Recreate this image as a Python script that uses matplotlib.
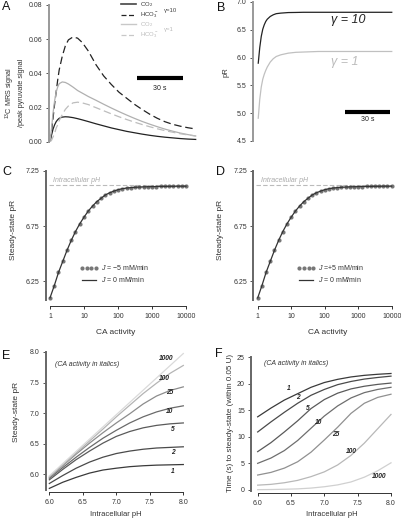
import numpy as np
import matplotlib.pyplot as plt
from matplotlib.lines import Line2D

plt.rcParams['font.family'] = ['Liberation Sans', 'DejaVu Sans']
plt.rcParams['mathtext.fontset'] = 'custom'
plt.rcParams['mathtext.rm'] = 'Liberation Sans'
plt.rcParams['mathtext.it'] = 'Liberation Sans:italic'
plt.rcParams['mathtext.bf'] = 'Liberation Sans:bold'

# ---- panel A: 13C signal vs time (s)
t_a = [0, 1, 2, 3, 4, 5, 6, 8, 10, 12, 15, 18, 21, 25, 30, 35, 40, 45, 50, 55,
       60, 65, 70, 75, 80, 85, 90, 95]
co2_g10 = [0, 0.004, 0.0075, 0.010, 0.0118, 0.013, 0.0138, 0.0145, 0.0147, 0.0146,
           0.0142, 0.0136, 0.0129, 0.0119, 0.0106, 0.0094, 0.0082, 0.0072, 0.0062,
           0.0054, 0.0046, 0.0039, 0.0033, 0.0028, 0.0024, 0.0020, 0.0017, 0.0015]
hco3_g10 = [0, 0.006, 0.014, 0.022, 0.029, 0.036, 0.042, 0.050, 0.056, 0.0595,
            0.0612, 0.0605, 0.058, 0.053, 0.045, 0.0385, 0.0335, 0.029, 0.0255,
            0.022, 0.019, 0.0162, 0.0138, 0.0118, 0.0103, 0.0092, 0.0083, 0.0076]
co2_g1 = [0, 0.008, 0.017, 0.024, 0.029, 0.032, 0.034, 0.035, 0.0347, 0.0338,
          0.032, 0.030, 0.0285, 0.0265, 0.0243, 0.022, 0.0198, 0.0177, 0.0157,
          0.0138, 0.0120, 0.0104, 0.0089, 0.0075, 0.0063, 0.0052, 0.0043, 0.0035]
hco3_g1 = [0, 0.001, 0.003, 0.005, 0.008, 0.010, 0.0125, 0.016, 0.019, 0.021,
           0.0228, 0.0232, 0.0228, 0.0218, 0.020, 0.0182, 0.0164, 0.0147, 0.0131,
           0.0116, 0.0102, 0.0089, 0.0077, 0.0066, 0.0057, 0.0048, 0.0041, 0.0035]

# ---- panel B: pR vs time (s)
t_b = [0, 1, 2, 3, 4, 5, 6, 8, 10, 12, 15, 20, 25, 30, 40, 50, 60, 70, 80, 89]
pr_g10 = [5.90, 6.18, 6.38, 6.51, 6.59, 6.65, 6.69, 6.74, 6.77, 6.79, 6.80, 6.81,
          6.812, 6.815, 6.815, 6.815, 6.815, 6.815, 6.815, 6.815]
pr_g1 = [4.91, 5.25, 5.47, 5.61, 5.70, 5.77, 5.83, 5.92, 5.98, 6.02, 6.05, 6.08,
         6.095, 6.10, 6.11, 6.11, 6.11, 6.11, 6.11, 6.11]

# ---- panels C, D: steady-state pR vs CA activity
ca_act = np.logspace(0, 4, 33)
pr_j0 = [6.10, 6.21, 6.33, 6.43, 6.53, 6.62, 6.70, 6.77, 6.83, 6.885, 6.93, 6.97,
         7.00, 7.03, 7.05, 7.065, 7.078, 7.087, 7.093, 7.097, 7.100, 7.102, 7.104,
         7.105, 7.106, 7.107, 7.108, 7.108, 7.109, 7.109, 7.110, 7.110, 7.110]
pr_jneg = pr_j0
pr_jpos = pr_j0
ph_intra = 7.12

# ---- panels E, F: vs intracellular pH
ph_grid = [6.0, 6.2, 6.4, 6.6, 6.8, 7.0, 7.2, 7.4, 7.6, 7.8, 8.0]
ca_labels = ['1', '2', '5', '10', '25', '100', '1000']
ss_pr = [
    [5.77, 5.87, 5.95, 6.02, 6.07, 6.10, 6.125, 6.14, 6.15, 6.155, 6.16],
    [5.85, 5.98, 6.10, 6.20, 6.28, 6.34, 6.38, 6.41, 6.43, 6.44, 6.45],
    [5.91, 6.08, 6.24, 6.38, 6.51, 6.62, 6.70, 6.76, 6.80, 6.825, 6.84],
    [5.935, 6.11, 6.28, 6.44, 6.59, 6.72, 6.84, 6.94, 7.02, 7.08, 7.12],
    [5.95, 6.14, 6.33, 6.51, 6.68, 6.84, 6.99, 7.15, 7.28, 7.37, 7.43],
    [5.96, 6.155, 6.35, 6.545, 6.74, 6.94, 7.13, 7.32, 7.49, 7.65, 7.78],
    [5.975, 6.175, 6.375, 6.575, 6.775, 6.975, 7.175, 7.375, 7.575, 7.775, 7.975],
]
t_ss = [
    [13.75, 15.4, 16.9, 18.1, 19.3, 20.2, 20.8, 21.25, 21.55, 21.75, 21.9],
    [10.9, 12.8, 14.6, 16.3, 17.8, 18.9, 19.8, 20.4, 20.85, 21.15, 21.4],
    [7.2, 8.9, 10.9, 13.0, 15.3, 17.0, 18.2, 19.0, 19.5, 19.85, 20.1],
    [5.0, 6.0, 7.4, 9.3, 11.6, 13.9, 15.8, 17.3, 18.3, 18.9, 19.3],
    [2.8, 3.3, 4.1, 5.3, 7.1, 9.4, 11.8, 14.4, 16.3, 17.4, 18.0],
    [0.9, 1.05, 1.35, 1.8, 2.5, 3.4, 4.7, 6.5, 8.8, 11.5, 14.2],
    [0.05, 0.08, 0.13, 0.2, 0.35, 0.6, 0.95, 1.5, 2.4, 3.6, 5.1],
]
e_colors = ['#3a3a3a', '#4a4a4a', '#5a5a5a', '#6a6a6a', '#8c8c8c', '#b4b4b4', '#dadada']
f_colors = ['#3a3a3a', '#4a4a4a', '#5a5a5a', '#6e6e6e', '#909090', '#b8b8b8', '#d0d0d0']

W, H = 402, 520
fig = plt.figure(figsize=(W / 100, H / 100), dpi=100)


def px_axes(x0, y0, x1, y1):
    return fig.add_axes([x0 / W, 1 - y1 / H, (x1 - x0) / W, (y1 - y0) / H])


def style(ax, spine_col='#777', bottom=True, out=3):
    ax.spines['top'].set_visible(False)
    ax.spines['right'].set_visible(False)
    ax.spines['left'].set_color(spine_col)
    ax.spines['left'].set_linewidth(1.4)
    ax.tick_params(axis='y', length=2.5, width=0.7, color='#555', labelsize=5,
                   pad=2, labelcolor='#333')
    if bottom:
        ax.spines['bottom'].set_position(('outward', out))
        ax.spines['bottom'].set_linewidth(0.7)
        ax.spines['bottom'].set_color('#333')
        ax.tick_params(axis='x', length=2.5, width=0.7, color='#333', labelsize=5,
                       pad=2.5, labelcolor='#333')
    else:
        ax.spines['bottom'].set_visible(False)
        ax.set_xticks([])
    ax.patch.set_visible(False)


def ftext(x, y, s, **kw):
    return fig.text(x / W, 1 - y / H, s, **kw)


# ---------------- A
axA = px_axes(49, 4.7, 198, 142)
axA.plot(t_a, co2_g10, color='#222', lw=0.9)
axA.plot(t_a, hco3_g10, color='#222', lw=0.9, ls=(0, (6, 3)))
axA.plot(t_a, co2_g1, color='#b0b0b0', lw=0.9)
axA.plot(t_a, hco3_g1, color='#bdbdbd', lw=0.9, ls=(0, (6, 3)))
axA.set_xlim(-0.65, 96.5)
axA.set_ylim(0, 0.08)
axA.set_yticks([0, 0.02, 0.04, 0.06, 0.08])
axA.set_yticklabels(['0.00', '0.02', '0.04', '0.06', '0.08'])
style(axA, spine_col='#999', bottom=False)
# scale bar 30 s
axA.plot([56.7, 86.7], [0.0373, 0.0373], color='k', lw=3, solid_capstyle='butt')
axA.text(71.7, 0.0335, '30 s', ha='center', va='top', fontsize=5, color='#222')
leg1 = axA.legend([Line2D([], [], color='#444', lw=1.2),
                   Line2D([], [], color='#222', lw=0.9, ls=(0, (4, 2)))],
                  ['CO$_2$', 'HCO$_3^-$'], loc='upper left',
                  bbox_to_anchor=(0.48, 1.035), frameon=False, fontsize=4.3,
                  handlelength=2.6, handletextpad=0.6, labelspacing=0.35,
                  borderpad=0, borderaxespad=0, labelcolor='#333')
axA.add_artist(leg1)
axA.legend([Line2D([], [], color='#c8c8c8', lw=1.0),
            Line2D([], [], color='#c8c8c8', lw=0.9, ls=(0, (4, 2)))],
           ['CO$_2$', 'HCO$_3^-$'], loc='upper left',
           bbox_to_anchor=(0.48, 0.89), frameon=False, fontsize=4.3,
           handlelength=2.6, handletextpad=0.6, labelspacing=0.35,
           borderpad=0, borderaxespad=0, labelcolor='#bbb')
ftext(164, 10.5, 'γ=10', fontsize=4.3, color='#444', va='center')
ftext(164, 29.5, 'γ=1', fontsize=4.3, color='#bbb', va='center')
ftext(14.5, 93, '$^{13}$C MRS signal\n/peak pyruvate signal', rotation=90,
      ha='center', va='center', fontsize=5.2, color='#333', linespacing=1.15,
      multialignment='center')

# ---------------- B
axB = px_axes(253, 2, 394, 141)
axB.plot(t_b, pr_g10, color='#222', lw=0.9)
axB.plot(t_b, pr_g1, color='#c0c0c0', lw=0.9)
axB.set_xlim(-3.5, 90.5)
axB.set_ylim(4.5, 7.0)
axB.set_yticks([4.5, 5.0, 5.5, 6.0, 6.5, 7.0])
axB.set_yticklabels(['4.5', '5.0', '5.5', '6.0', '6.5', '7.0'])
style(axB, spine_col='#999', bottom=False)
axB.plot([57.8, 87.8], [5.02, 5.02], color='k', lw=3, solid_capstyle='butt')
axB.text(72.8, 4.89, '30 s', ha='center', va='center', fontsize=5, color='#222')
ftext(331, 20, 'γ = 10', fontsize=9, color='#222', va='center', style='italic')
ftext(331, 62, 'γ = 1', fontsize=9, color='#bbb', va='center', style='italic')
ftext(226, 72, 'pR', rotation=90, ha='center', va='center', fontsize=5.5, color='#333')


# ---------------- C, D
def ca_panel(rect, xlim, pr_dots, jlab, leg_x, txt_x, ylab_x, xlab_x):
    ax = px_axes(*rect)
    ax.axhline(ph_intra, color='#bbb', lw=0.8, ls=(0, (4, 2)), xmin=0.02, xmax=0.98)
    ax.plot(ca_act, pr_dots, 'o', color='#777', ms=3.0, mec='none', label=jlab)
    ax.plot(ca_act, pr_j0, color='#333', lw=0.9, label='$J$ = 0 mM/min')
    ax.set_xscale('log')
    ax.set_xlim(*xlim)
    ax.set_ylim(7.25 - 129.3 / 110.6, 7.25)
    ax.set_yticks([6.25, 6.75, 7.25])
    ax.set_yticklabels(['6.25', '6.75', '7.25'])
    ax.set_xticks([1, 10, 100, 1000, 10000])
    ax.set_xticklabels(['1', '10', '100', '1000', '10000'])
    ax.minorticks_off()
    style(ax, spine_col='#666', bottom=True, out=4.3)
    ax.spines['bottom'].set_bounds(1, 10000)
    ax.text(txt_x, 7.165, 'Intracellular pH', fontsize=5, color='#aaa',
            style='italic', va='center')
    ax.legend(loc='center left', bbox_to_anchor=(leg_x, 0.205), frameon=False,
              fontsize=5, numpoints=4, handlelength=2.6, handletextpad=0.4,
              labelspacing=0.45, borderpad=0, borderaxespad=0, labelcolor='#333')
    ftext(ylab_x, 230, 'Steady-state pR', rotation=90, ha='center', va='center',
          fontsize=6, color='#333')
    ftext(xlab_x, 333, 'CA activity', ha='center', va='center', fontsize=6, color='#333')
    return ax


ca_panel((46, 170.7, 190, 300), (0.763, 13100), pr_jneg, '$J$ = \u22125 mM/min',
         0.235, 1.22, 14, 116)
ca_panel((253.3, 170.7, 395, 300), (0.739, 12560), pr_jpos, '$J$ =+5 mM/min',
         0.31, 1.25, 221, 328)

# ---------------- E
axE = px_axes(46, 352, 186, 489.6)
for vals, col in zip(ss_pr, e_colors):
    axE.plot(ph_grid, vals, color=col, lw=0.9)
axE.set_xlim(5.95, 8.04)
axE.set_ylim(5.75, 8.0)
axE.set_yticks([6.0, 6.5, 7.0, 7.5, 8.0])
axE.set_yticklabels(['6.0', '6.5', '7.0', '7.5', '8.0'])
axE.set_xticks([6.0, 6.5, 7.0, 7.5, 8.0])
axE.set_xticklabels(['6.0', '6.5', '7.0', '7.5', '8.0'])
style(axE, spine_col='#666', bottom=True, out=1.5)
axE.spines['bottom'].set_bounds(6.0, 8.0)
e_lab_pos = [(7.84, 6.05), (7.84, 6.35), (7.84, 6.74), (7.79, 7.02), (7.79, 7.33),
             (7.71, 7.57), (7.75, 7.89)]
for lab, (x, y) in zip(ca_labels, e_lab_pos):
    axE.text(x, y, lab, fontsize=4.8, fontweight='bold', style='italic', color='#222',
             ha='center', va='center')
axE.text(6.085, 7.80, '(CA activity in italics)', fontsize=5, style='italic',
         color='#333', va='center')
ftext(17, 412, 'Steady-state pR', rotation=90, ha='center', va='center',
      fontsize=6, color='#333')
ftext(116, 515, 'Intracellular pH', ha='center', va='center', fontsize=5.5, color='#333')

# ---------------- F
axF = px_axes(251, 357, 394, 491)
for vals, col in zip(t_ss, f_colors):
    axF.plot(ph_grid, vals, color=col, lw=0.9)
axF.set_xlim(5.9, 8.045)
axF.set_ylim(-0.2, 25)
axF.set_yticks([0, 5, 10, 15, 20, 25])
axF.set_xticks([6.0, 6.5, 7.0, 7.5, 8.0])
axF.set_xticklabels(['6.0', '6.5', '7.0', '7.5', '8.0'])
style(axF, spine_col='#666', bottom=True, out=1.5)
axF.spines['bottom'].set_bounds(6.0, 8.0)
f_lab_pos = [(6.46, 19.1), (6.60, 17.3), (6.75, 15.4), (6.92, 12.6), (7.17, 10.5),
             (7.40, 7.3), (7.82, 2.5)]
for lab, (x, y) in zip(ca_labels, f_lab_pos):
    axF.text(x, y, lab, fontsize=4.8, fontweight='bold', style='italic', color='#222',
             ha='center', va='center')
axF.text(6.09, 23.7, '(CA activity in italics)', fontsize=5, style='italic',
         color='#333', va='center')
ftext(231, 423, 'Time (s) to steady-state (within 0.05 U)', rotation=90,
      ha='center', va='center', fontsize=5.8, color='#333')
ftext(332, 515, 'Intracellular pH', ha='center', va='center', fontsize=5.5, color='#333')

# panel letters
for lab, x, y in [('A', 2, 1), ('B', 217, 2), ('C', 2, 166), ('D', 216, 166),
                  ('E', 2, 350), ('F', 215, 348)]:
    ftext(x, y, lab, fontsize=9, va='top', ha='left', color='#111')

fig.savefig('out.png', dpi=100)
